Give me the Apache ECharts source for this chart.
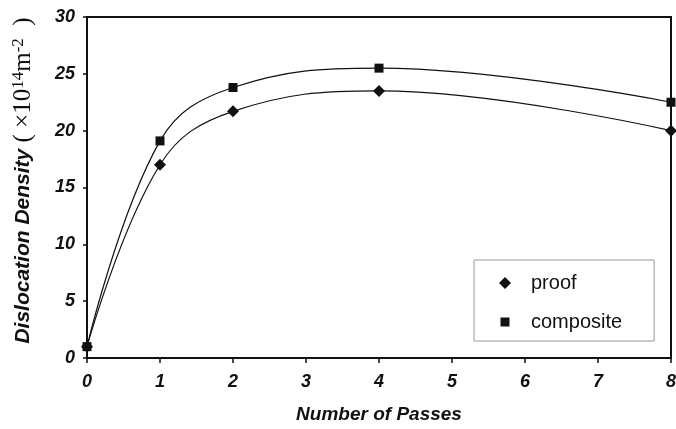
<!DOCTYPE html>
<html><head><meta charset="utf-8">
<script src="https://cdn.jsdelivr.net/npm/echarts@6/dist/echarts.min.js"></script>
<style>html,body{margin:0;padding:0;background:#fff}#c{width:676px;height:429px}</style>
</head><body><div id="c"></div>
<script>
const passes = [0, 1, 2, 4, 8];
const proof = [1.0, 17.0, 21.7, 23.5, 20.0];
const composite = [1.0, 19.1, 23.8, 25.5, 22.5];
const xTicks = [0, 1, 2, 3, 4, 5, 6, 7, 8];
const yTicks = [0, 5, 10, 15, 20, 25, 30];

const chart = echarts.init(document.getElementById('c'));
const lab = {fontFamily: 'Liberation Sans', fontWeight: 'bold', fontStyle: 'italic', fontSize: 18, color: '#111'};
chart.setOption({
  animation: false,
  grid: {left: 87, top: 17, right: 5, bottom: 71, show: true, borderColor: '#111', borderWidth: 2,
         containLabel: false, outerBoundsMode: 'none'},
  xAxis: {
    type: 'value', min: 0, max: 8, interval: 1,
    name: 'Number of Passes', nameLocation: 'middle', nameGap: 47,
    nameTextStyle: {fontFamily: 'Liberation Sans', fontWeight: 'bold', fontStyle: 'italic', fontSize: 19, color: '#111'},
    axisLine: {lineStyle: {color: '#111', width: 2}},
    axisTick: {show: true, length: 5, lineStyle: {color: '#111', width: 1.5}},
    axisLabel: Object.assign({margin: 15, formatter: v => xTicks.includes(v) ? String(v) : ''}, lab),
    splitLine: {show: false}
  },
  yAxis: {
    type: 'value', min: 0, max: 30, interval: 5,
    name: '{a|Dislocation Density}{b| ( ×10}{s|14}{b|m}{s|-2}{b|  )}',
    nameLocation: 'middle', nameGap: 50, nameRotate: 90,
    nameTextStyle: {
      padding: [0, 0, 0, 14],
      rich: {
        a: {fontFamily: 'Liberation Sans', fontWeight: 'bold', fontStyle: 'italic', fontSize: 21, color: '#111'},
        b: {fontFamily: 'Liberation Serif', fontSize: 25, color: '#111'},
        s: {fontFamily: 'Liberation Serif', fontSize: 17, color: '#111', verticalAlign: 'top', padding: [0, 0, 10, 0]}
      }
    },
    axisLine: {show: true, lineStyle: {color: '#111', width: 2}},
    axisTick: {show: true, length: 4, lineStyle: {color: '#111', width: 1.5}},
    axisLabel: Object.assign({margin: 12, formatter: v => yTicks.includes(v) ? String(v) : ''}, lab),
    splitLine: {show: false}
  },
  legend: {
    orient: 'vertical', left: 474, top: 260,
    padding: [13, 32, 9, 25], itemGap: 19,
    borderColor: '#999', borderWidth: 1,
    itemWidth: 12, itemHeight: 12,
    textStyle: {fontFamily: 'Liberation Sans', fontSize: 20, color: '#111', padding: [0, 0, 0, 15]},
    data: [
      {name: 'proof', icon: 'diamond'},
      {name: 'composite', icon: 'path://M0,0M12,12M1.5,1.5L10.5,1.5L10.5,10.5L1.5,10.5Z'}
    ]
  },
  series: [
    {name: 'proof', type: 'line', smooth: 0.4, data: passes.map((x, i) => [x, proof[i]]),
     symbol: 'diamond', symbolSize: 12, lineStyle: {color: '#111', width: 1.2}, itemStyle: {color: '#111'}},
    {name: 'composite', type: 'line', smooth: 0.4, data: passes.map((x, i) => [x, composite[i]]),
     symbol: 'rect', symbolSize: 9, lineStyle: {color: '#111', width: 1.2}, itemStyle: {color: '#111'}}
  ]
});
</script></body></html>
